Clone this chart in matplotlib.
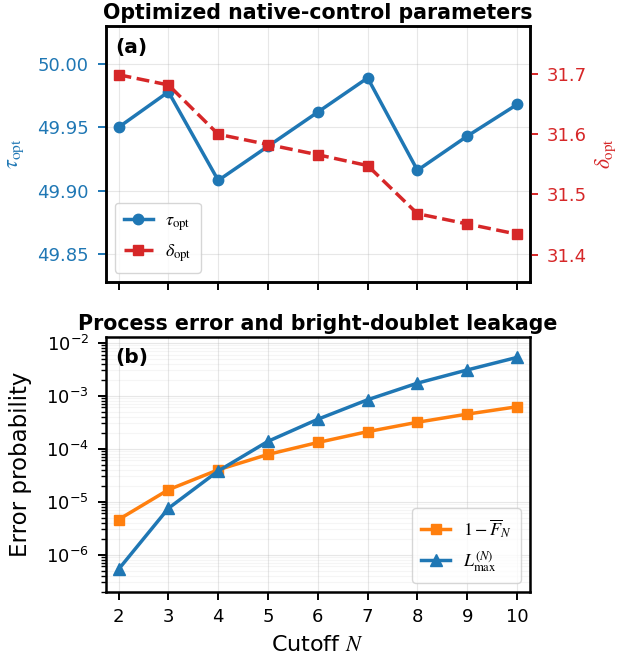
import matplotlib
matplotlib.use("Agg")
import matplotlib.pyplot as plt
import numpy as np

plt.rcParams['mathtext.fontset'] = 'stix'
plt.rcParams['font.family'] = ['DejaVu Sans']

N = [2, 3, 4, 5, 6, 7, 8, 9, 10]
tau_opt = [49.950, 49.978, 49.908, 49.935, 49.962, 49.989, 49.916, 49.943, 49.968]
delta_opt = [31.699, 31.682, 31.600, 31.583, 31.566, 31.548, 31.468, 31.451, 31.434]
infidelity = [4.6e-6, 1.68e-5, 4.0e-5, 7.8e-5, 1.31e-4, 2.1e-4, 3.16e-4, 4.5e-4, 6.2e-4]
leak_max = [5.3e-7, 7.5e-6, 3.8e-5, 1.38e-4, 3.6e-4, 8.4e-4, 1.73e-3, 3.07e-3, 5.3e-3]

blue = '#1f77b4'
red = '#d62728'
orange = '#ff7f0e'

fig = plt.figure(figsize=(6.18, 6.62), dpi=100)
ax1 = fig.add_axes([0.171, 0.5745, 0.6866, 0.3862])
ax3 = fig.add_axes([0.171, 0.1062, 0.6866, 0.3848], sharex=ax1)

TICK = 13
LW = 2.5
MS = 7.5
TL = 6
TP = 6
leg_kw = dict(fontsize=13, framealpha=0.8, handlelength=1.6, handletextpad=0.7,
              borderpad=0.5)

# Panel (a)
l1, = ax1.plot(N, tau_opt, '-o', color=blue, lw=LW, ms=MS, label=r'$\tau_{\rm opt}$')
ax1.set_ylim(49.828, 50.030)
ax1.set_yticks([49.85, 49.90, 49.95, 50.00])
ax1.set_ylabel(r'$\tau_{\rm opt}$', color=blue, fontsize=16, labelpad=8)
ax1.tick_params(axis='y', colors=blue, labelsize=TICK, length=TL, width=1.4, pad=TP)
ax1.tick_params(axis='x', labelbottom=False, length=TL, width=1.4, pad=TP)
ax1.grid(True, alpha=0.3)
ax2 = ax1.twinx()
l2, = ax2.plot(N, delta_opt, '--s', color=red, lw=LW, ms=MS, label=r'$\delta_{\rm opt}$')
ax2.set_ylim(31.355, 31.78)
ax2.set_yticks([31.4, 31.5, 31.6, 31.7])
ax2.set_ylabel(r'$\delta_{\rm opt}$', color=red, fontsize=15.5, labelpad=5)
ax2.tick_params(axis='y', colors=red, labelsize=TICK, length=TL, width=1.4, pad=TP)
for ax in (ax1, ax2):
    for s in ax.spines.values():
        s.set_linewidth(1.8)
ax1.set_title('Optimized native-control parameters', fontsize=14.8, fontweight='bold', pad=5)
ax1.text(0.022, 0.955, '(a)', transform=ax1.transAxes, fontsize=14.5, fontweight='bold', va='top')
ax1.legend(handles=[l1, l2], loc='lower left', **leg_kw)

# Panel (b)
ax3.semilogy(N, infidelity, '-s', color=orange, lw=LW, ms=MS, label=r'$1-\overline{F}_N$')
ax3.semilogy(N, leak_max, '-^', color=blue, lw=LW, ms=MS + 0.5, label=r'$L_{\rm max}^{(N)}$')
ax3.set_ylim(10**-6.70, 10**-1.89)
ax3.set_xticks(N)
ax3.set_xlim(1.74, 10.26)
ax3.grid(True, which='major', alpha=0.3)
ax3.grid(True, which='minor', alpha=0.12)
ax3.tick_params(axis='both', which='major', labelsize=TICK, length=TL, width=1.4, pad=TP)
ax3.tick_params(axis='both', which='minor', length=3.5, width=1)
ax3.set_ylabel('Error probability', fontsize=16.5, labelpad=10)
ax3.set_xlabel(r'Cutoff $N$', fontsize=16, labelpad=6)
for s in ax3.spines.values():
    s.set_linewidth(1.8)
ax3.set_title('Process error and bright-doublet leakage', fontsize=14.8, fontweight='bold', pad=5)
ax3.text(0.022, 0.955, '(b)', transform=ax3.transAxes, fontsize=14.5, fontweight='bold', va='top')
ax3.legend(loc='lower right', **leg_kw)

fig.savefig('out.png', dpi=100)
